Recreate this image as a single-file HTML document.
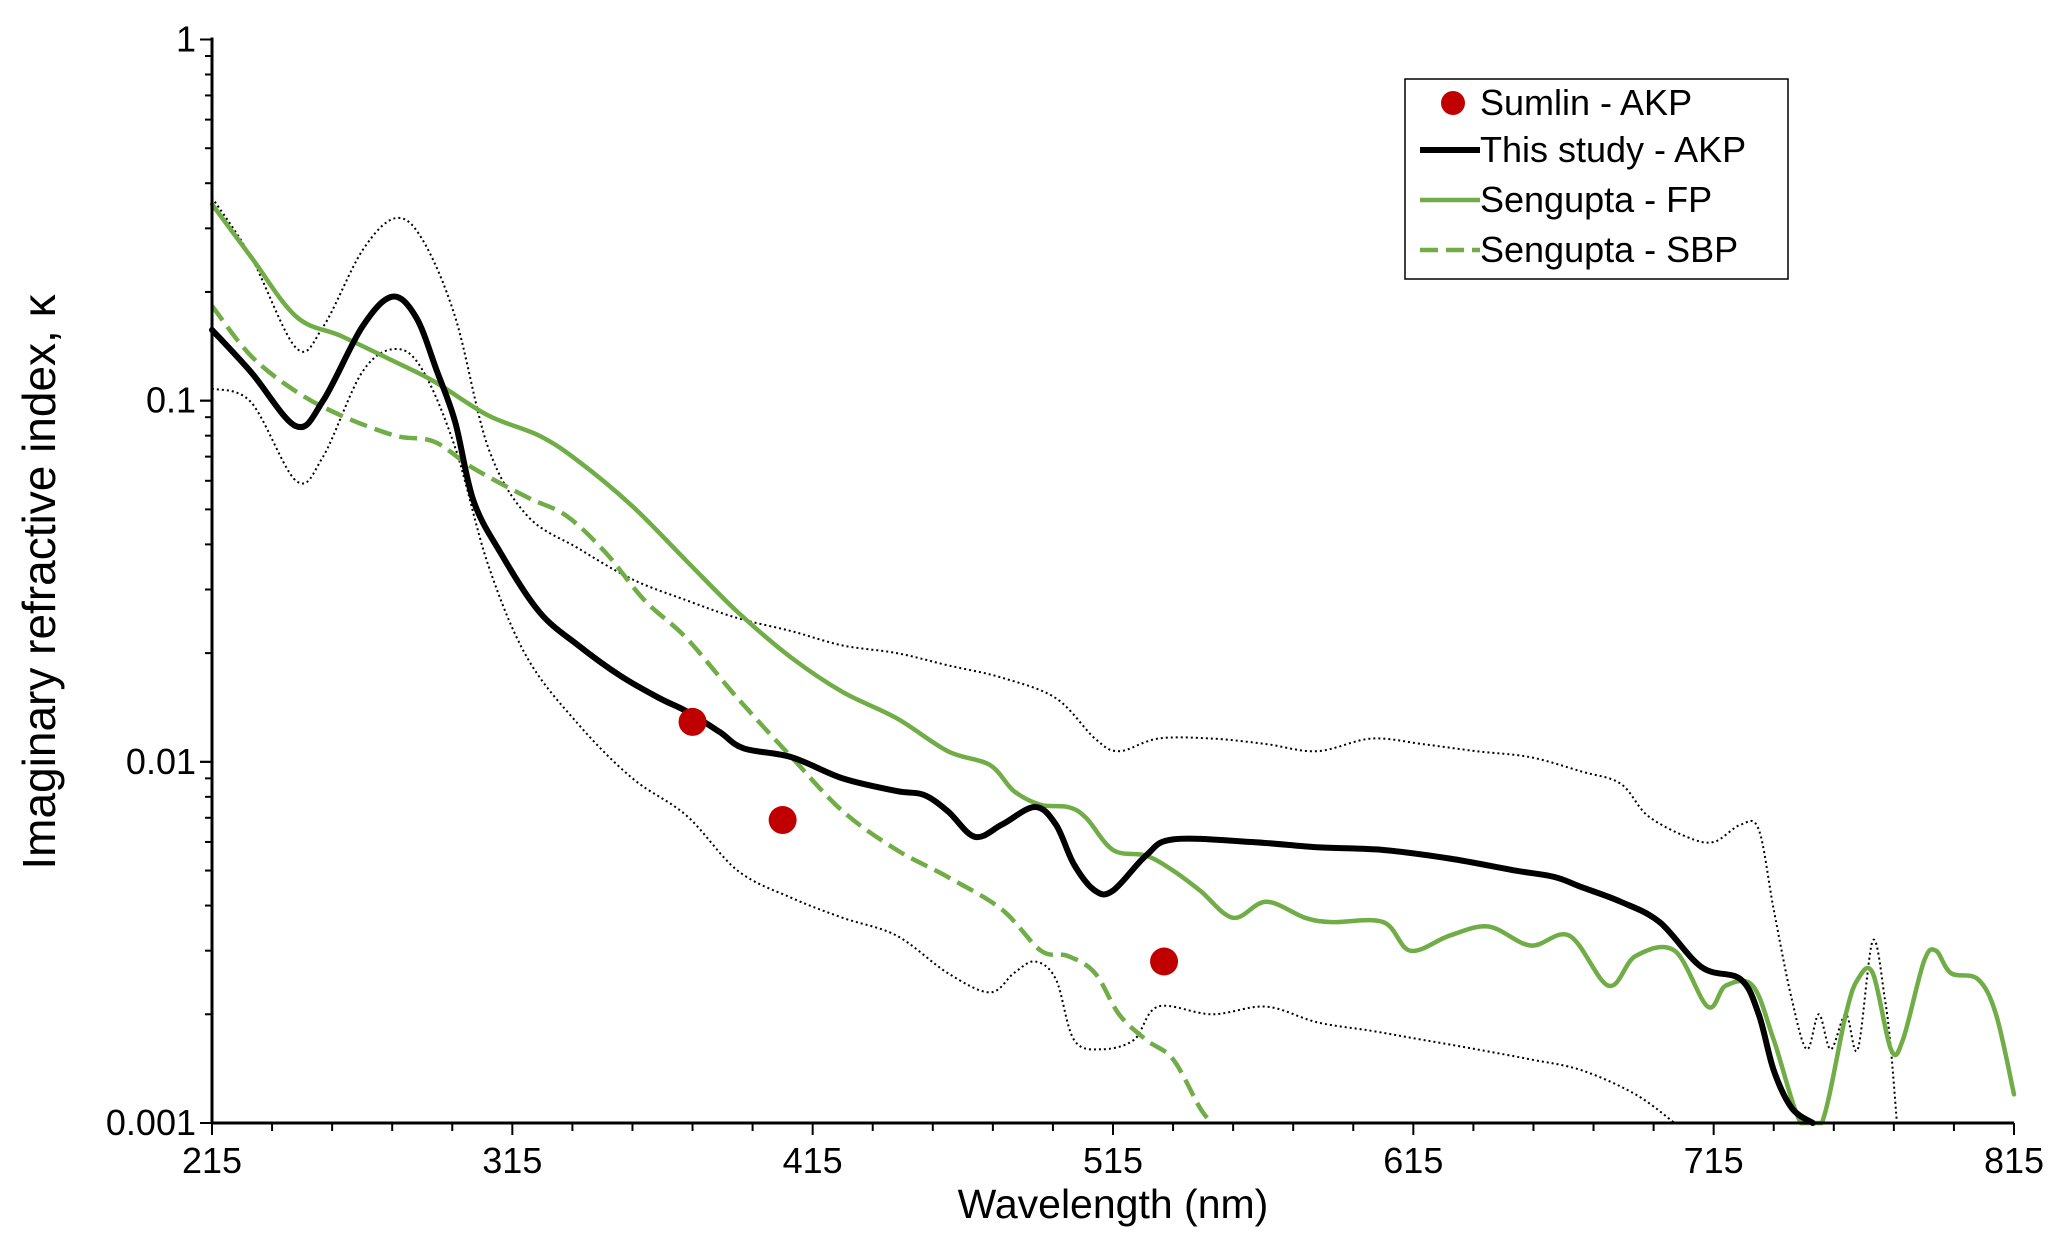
<!DOCTYPE html>
<html><head><meta charset="utf-8"><style>body{margin:0;background:#fff}svg{display:block}text{font-family:"Liberation Sans",sans-serif}</style></head>
<body>
<svg id="chart" width="2067" height="1250" viewBox="0 0 2067 1250" xmlns="http://www.w3.org/2000/svg">
<g id="marks"></g>
<g id="axes"></g>
<text x="1113" y="1218" font-size="41" text-anchor="middle">Wavelength (nm)</text>
<text transform="translate(55,582) rotate(-90)" font-size="46" text-anchor="middle">Imaginary refractive index, κ</text>
<g>
<rect x="1405" y="79" width="383" height="200" fill="#fff" stroke="#000" stroke-width="1.5"/>
<circle cx="1453" cy="103" r="12" fill="#c00000"/>
<text x="1480" y="115" font-size="36">Sumlin - AKP</text>
<line x1="1420" y1="150" x2="1480" y2="150" stroke="#000" stroke-width="6"/>
<text x="1480" y="162" font-size="36">This study - AKP</text>
<line x1="1420" y1="200" x2="1480" y2="200" stroke="#70ad47" stroke-width="4.5"/>
<text x="1480" y="212" font-size="36">Sengupta - FP</text>
<line x1="1420" y1="250" x2="1480" y2="250" stroke="#70ad47" stroke-width="4.5" stroke-dasharray="18 8"/>
<text x="1480" y="262" font-size="36">Sengupta - SBP</text>
</g>
</svg>
<script>
const xTicks=[215,315,415,515,615,715,815];
const yTicks=[0.001,0.01,0.1,1];
const yTickLabels=["0.001","0.01","0.1","1"];
const studyX=[215,228,243,252,265,275,283,290,296,302,311,324,337,351,364,373,384,392,408,425,443,452,460,469,478,489,496,502,509,515,526,535,561,583,605,627,649,662,671,684,697,711,724,730,735,741,748];
const studyY=[0.157,0.12,0.085,0.1,0.16,0.194,0.17,0.12,0.087,0.053,0.038,0.026,0.021,0.0173,0.015,0.0138,0.0121,0.0109,0.0103,0.009,0.0083,0.0081,0.0073,0.0062,0.0067,0.0075,0.0067,0.0052,0.0044,0.0044,0.0055,0.0061,0.006,0.0058,0.0057,0.0054,0.005,0.0048,0.0045,0.0041,0.0036,0.0027,0.0025,0.002,0.0014,0.0011,0.001];
const fpX=[215,228,243,258,276,289,307,324,337,355,373,390,408,425,443,460,474,482,491,500,506,515,526,535,544,555,566,579,588,605,614,627,640,654,667,680,689,702,713,719,728,735,744,751,759,763,768,774,778,785,789,794,803,809,815];
const fpY=[0.35,0.25,0.171,0.151,0.128,0.113,0.091,0.08,0.068,0.051,0.036,0.026,0.0194,0.0156,0.0132,0.0107,0.0098,0.0083,0.0076,0.0075,0.007,0.0057,0.0055,0.005,0.0044,0.0037,0.0041,0.0037,0.0036,0.0036,0.003,0.0033,0.0035,0.0031,0.0033,0.0024,0.0029,0.003,0.0021,0.0024,0.0024,0.0017,0.001,0.001,0.002,0.0025,0.0026,0.0016,0.0017,0.0028,0.003,0.0026,0.0025,0.002,0.0012];
const sbpX=[215,228,243,258,276,289,302,320,333,346,359,373,390,408,425,443,460,478,491,500,509,517,526,535,544,548];
const sbpY=[0.183,0.133,0.106,0.091,0.08,0.077,0.065,0.054,0.048,0.038,0.028,0.022,0.015,0.0103,0.0073,0.0057,0.0048,0.0039,0.003,0.0029,0.0026,0.002,0.0017,0.0015,0.0011,0.001];
const upX=[215,228,243,252,265,276,285,296,307,320,337,355,373,390,408,425,443,460,478,496,509,517,530,548,566,583,601,618,636,654,671,684,693,706,715,724,730,735,741,746,750,754,759,763,768,772,774,776];
const upY=[0.365,0.25,0.14,0.16,0.26,0.32,0.28,0.17,0.074,0.048,0.039,0.032,0.028,0.025,0.023,0.021,0.02,0.0185,0.0171,0.015,0.0116,0.0107,0.0116,0.0116,0.0112,0.0107,0.0116,0.0112,0.0107,0.0103,0.0094,0.0087,0.0071,0.0062,0.006,0.0067,0.0065,0.0039,0.0022,0.0016,0.002,0.0016,0.002,0.0016,0.0032,0.0022,0.0016,0.001];
const loX=[215,228,243,252,265,276,285,296,307,320,337,355,373,390,408,425,443,460,474,482,489,496,502,511,522,530,548,566,583,601,618,636,654,671,689,702];
const loY=[0.108,0.099,0.06,0.07,0.12,0.139,0.122,0.074,0.035,0.0194,0.0127,0.009,0.0071,0.005,0.0042,0.0037,0.0033,0.0026,0.0023,0.0026,0.0028,0.0025,0.0017,0.0016,0.0017,0.0021,0.002,0.0021,0.0019,0.0018,0.0017,0.0016,0.0015,0.0014,0.0012,0.001];
const sumlinX=[375,405,532];
const sumlinY=[0.0129,0.0069,0.0028];

const L=212,R=2014,T=39.5,B=1123;
const sx=v=>L+(v-215)/600*(R-L);
const sy=v=>B-(Math.log10(v)+3)/3*(B-T);
const NS="http://www.w3.org/2000/svg";
const marks=document.getElementById('marks'),axes=document.getElementById('axes');
function mk(tag,attrs,parent){const e=document.createElementNS(NS,tag);for(const k in attrs)e.setAttribute(k,attrs[k]);parent.appendChild(e);return e;}
function smooth(pts){
  let d='M'+pts[0][0].toFixed(1)+','+pts[0][1].toFixed(1);
  for(let i=0;i<pts.length-1;i++){
    const p0=pts[i-1]||pts[i],p1=pts[i],p2=pts[i+1],p3=pts[i+2]||p2;
    const c1=[p1[0]+(p2[0]-p0[0])/6,p1[1]+(p2[1]-p0[1])/6];
    const c2=[p2[0]-(p3[0]-p1[0])/6,p2[1]-(p3[1]-p1[1])/6];
    c1[1]=Math.min(c1[1],B);c2[1]=Math.min(c2[1],B);
    d+='C'+c1[0].toFixed(1)+','+c1[1].toFixed(1)+' '+c2[0].toFixed(1)+','+c2[1].toFixed(1)+' '+p2[0].toFixed(1)+','+p2[1].toFixed(1);
  }
  return d;
}
function line(xs,ys,name,stroke,w,dash){
  const pts=xs.map((x,i)=>[sx(x),sy(Math.max(ys[i],0.001))]);
  const p=mk('path',{d:smooth(pts),fill:'none',stroke:stroke,'stroke-width':w,'stroke-linejoin':'round','stroke-linecap':dash?'butt':'round'},marks);
  if(dash)p.setAttribute('stroke-dasharray',dash);
  
  
}
line(upX,upY,'upper-uncertainty-line','#000',2,'2 3');
line(loX,loY,'lower-uncertainty-line','#000',2,'2 3');
line(sbpX,sbpY,'sengupta-sbp-line','#70ad47',4.5,'18 8');
line(fpX,fpY,'sengupta-fp-line','#70ad47',4.5,null);
line(studyX,studyY,'this-study-line','#000',6,null);
sumlinX.forEach((x,i)=>{
  const c=mk('circle',{cx:sx(x),cy:sy(sumlinY[i]),r:14,fill:'#c00000'},marks);
  
  
});
mk('line',{x1:L,y1:T-2,x2:L,y2:B,stroke:'#000','stroke-width':3},axes);
mk('line',{x1:L,y1:B,x2:R,y2:B,stroke:'#000','stroke-width':3},axes);
for(let v=215;v<=815;v+=20){const big=(v-215)%100===0;mk('line',{x1:sx(v),y1:B,x2:sx(v),y2:B+(big?12:8),stroke:'#000','stroke-width':2},axes);}
xTicks.forEach(v=>{const t=mk('text',{x:sx(v),y:B+50,'font-size':36,'text-anchor':'middle'},axes);t.textContent=v;

});
for(let e=-3;e<0;e++)for(let m=1;m<=10;m++){const v=m*Math.pow(10,e);mk('line',{x1:L-(m===1||m===10?12:7),y1:sy(v),x2:L,y2:sy(v),stroke:'#000','stroke-width':2},axes);}
yTicks.forEach((v,i)=>{const t=mk('text',{x:L-16,y:sy(v)+12,'font-size':36,'text-anchor':'end'},axes);t.textContent=yTickLabels[i];

});
</script>
</body></html>
